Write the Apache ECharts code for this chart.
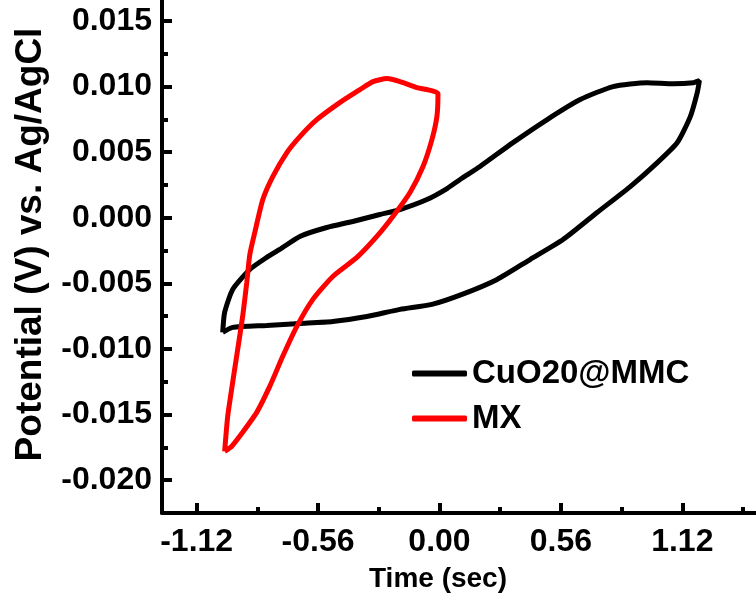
<!DOCTYPE html>
<html lang="en">

<head>
    <meta charset="UTF-8">
    <title>CV loops</title>
    <style>
        * {
            margin: 0;
            padding: 0;
        }

        html,
        body,
        #chart {
            width: 756px;
            height: 600px;
            overflow: hidden;
            background: #fff;
        }
    </style>
</head>

<body>
    <div id="chart"></div>
    <script src="https://cdn.jsdelivr.net/npm/echarts@6/dist/echarts.min.js"></script>
    <script>
        // CuO20@MMC loop
        let cuoX = [-1.000, -0.991, -0.954, -0.875, -0.797, -0.737, -0.644, -0.520, -0.400, -0.275, -0.182, -0.058,
            0.035, 0.095, 0.187, 0.339, 0.497, 0.649, 0.801, 0.958, 1.078, 1.171, 1.199,
            1.189, 1.157, 1.097, 1.005, 0.880, 0.727, 0.570, 0.418, 0.266, 0.104, -0.035, -0.182, -0.335,
            -0.492, -0.644, -0.797, -0.954, -1.000
        ];
        let cuoY = [-0.00873, -0.00721, -0.00546, -0.00394, -0.00302, -0.00241, -0.00142, -0.00074, -0.00028, 0.00025,
            0.00063, 0.00139, 0.00223, 0.00292, 0.00391, 0.00573, 0.00749, 0.00901, 0.01000, 0.01030, 0.01022,
            0.01030, 0.01045, 0.00954, 0.00771, 0.00574, 0.00421, 0.00238, 0.00040, -0.00166, -0.00318, -0.00470,
            -0.00584, -0.00660, -0.00698, -0.00752, -0.00790, -0.00805, -0.00820, -0.00835, -0.00873
        ];

        // MX loop
        let mxX = [-0.991, -0.977, -0.954, -0.931, -0.908, -0.889, -0.875, -0.852, -0.815, -0.769, -0.704, -0.644,
            -0.566, -0.460, -0.367, -0.307, -0.242, -0.182, -0.104, -0.007, -0.012, -0.035, -0.076, -0.136,
            -0.215, -0.289, -0.381, -0.492, -0.584, -0.658, -0.723, -0.783, -0.843, -0.908, -0.958, -0.991
        ];
        let mxY = [-0.01780, -0.01514, -0.01255, -0.01004, -0.00752, -0.00493, -0.00280, -0.00112, 0.00139, 0.00314,
            0.00497, 0.00619, 0.00748, 0.00878, 0.00977, 0.01038, 0.01061, 0.01038, 0.00992, 0.00946, 0.00771,
            0.00596, 0.00391, 0.00193, 0.00010, -0.00142, -0.00302, -0.00447, -0.00622, -0.00828, -0.01056,
            -0.01285, -0.01483, -0.01635, -0.01741, -0.01780
        ];

        let xMajor = [-1.12, -0.56, 0, 0.56, 1.12];
        let xMinor = [-0.84, -0.28, 0.28, 0.84, 1.40];
        let yMajor = [-0.020, -0.015, -0.010, -0.005, 0, 0.005, 0.010, 0.015];
        let yMinor = [-0.0175, -0.0125, -0.0075, -0.0025, 0.0025, 0.0075, 0.0125];

        let seriesNames = ['CuO20@MMC', 'MX'];
        let seriesColors = ['#000000', '#ff0000'];

        function pairs(xs, ys) {
            return xs.map((x, i) => [x, ys[i]]);
        }

        let font = '"Liberation Sans", Arial, sans-serif';

        function xAxisOf(major) {
            return {
                type: 'value',
                min: -1.28,
                max: 1.46,
                position: 'bottom',
                splitLine: { show: false },
                axisLine: {
                    show: major,
                    onZero: false,
                    lineStyle: { color: '#000', width: 4 }
                },
                axisTick: {
                    show: true,
                    inside: true,
                    length: major ? 10 : 6,
                    customValues: major ? xMajor : xMinor,
                    lineStyle: { color: '#000', width: 4 }
                },
                axisLabel: {
                    show: major,
                    customValues: xMajor,
                    margin: 13,
                    color: '#000',
                    fontFamily: font,
                    fontWeight: 'bold',
                    fontSize: 32,
                    formatter: v => v.toFixed(2)
                },
                name: major ? 'Time (sec)' : '',
                nameLocation: 'middle',
                nameGap: 52,
                nameTextStyle: {
                    color: '#000',
                    fontFamily: font,
                    fontWeight: 'bold',
                    fontSize: 28,
                    padding: [0, 42, 0, 0]
                }
            };
        }

        function yAxisOf(major) {
            return {
                type: 'value',
                min: -0.0225,
                max: 0.0166,
                position: 'left',
                splitLine: { show: false },
                axisLine: {
                    show: major,
                    onZero: false,
                    lineStyle: { color: '#000', width: 4 }
                },
                axisTick: {
                    show: true,
                    inside: true,
                    length: major ? 10 : 6,
                    customValues: major ? yMajor : yMinor,
                    lineStyle: { color: '#000', width: 4 }
                },
                axisLabel: {
                    show: major,
                    customValues: yMajor,
                    margin: 10,
                    color: '#000',
                    fontFamily: font,
                    fontWeight: 'bold',
                    fontSize: 32,
                    formatter: v => v.toFixed(3)
                },
                name: major ? 'Potential (V) vs. Ag/AgCl' : '',
                nameLocation: 'middle',
                nameGap: 113,
                nameTextStyle: {
                    color: '#000',
                    fontFamily: font,
                    fontWeight: 'bold',
                    fontSize: 37,
                    padding: [0, 0, 0, 24]
                }
            };
        }

        let chart = echarts.init(document.getElementById('chart'));
        chart.setOption({
            animation: false,
            backgroundColor: '#fff',
            grid: {
                left: 162,
                right: 0,
                top: 0,
                bottom: 87,
                containLabel: false,
                outerBoundsMode: 'none'
            },
            legend: {
                orient: 'vertical',
                left: 407,
                top: 352,
                itemWidth: 55,
                itemHeight: 6,
                itemGap: 12,
                icon: 'roundRect',
                data: seriesNames,
                textStyle: {
                    color: '#000',
                    fontFamily: font,
                    fontWeight: 'bold',
                    fontSize: 33,
                    lineHeight: 32
                }
            },
            xAxis: [xAxisOf(true), xAxisOf(false)],
            yAxis: [yAxisOf(true), yAxisOf(false)],
            series: [{
                name: seriesNames[0],
                type: 'line',
                data: pairs(cuoX, cuoY),
                showSymbol: false,
                smooth: 0.2,
                color: seriesColors[0],
                lineStyle: { width: 5, color: seriesColors[0] }
            }, {
                name: seriesNames[1],
                type: 'line',
                data: pairs(mxX, mxY),
                showSymbol: false,
                smooth: 0.2,
                color: seriesColors[1],
                lineStyle: { width: 5, color: seriesColors[1] }
            }]
        });
    </script>
</body>

</html>
